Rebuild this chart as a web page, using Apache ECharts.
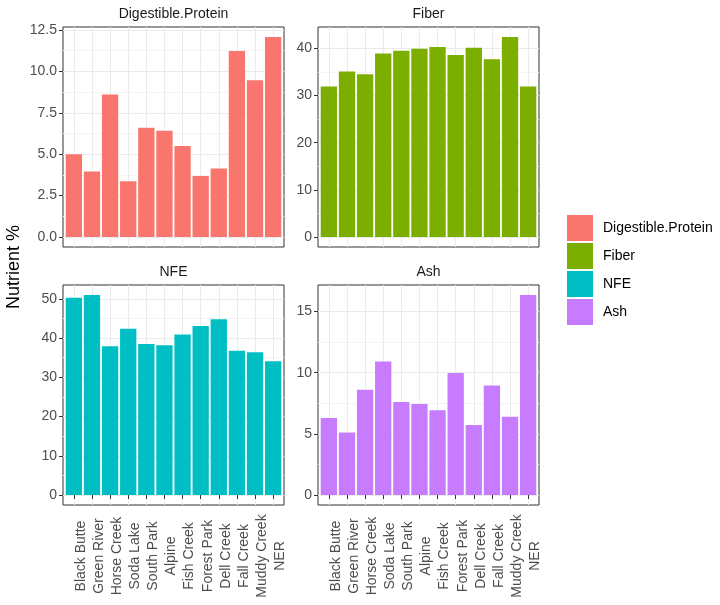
<!DOCTYPE html>
<html><head><meta charset="utf-8">
<script src="https://cdn.jsdelivr.net/npm/echarts@6/dist/echarts.min.js"></script>
<style>html,body{margin:0;padding:0;background:#fff}#c{width:720px;height:605px}</style>
</head><body><div id="c"></div>
<script>
// ---- data ----
const sites = ['Black Butte','Green River','Horse Creek','Soda Lake','South Park','Alpine','Fish Creek','Forest Park','Dell Creek','Fall Creek','Muddy Creek','NER'];
const digestibleProtein = [5.0, 3.95, 8.6, 3.37, 6.6, 6.42, 5.5, 3.69, 4.13, 11.24, 9.47, 12.08];
const fiber = [31.9, 35.1, 34.5, 38.9, 39.5, 39.9, 40.3, 38.6, 40.1, 37.7, 42.4, 31.9];
const nfe = [50.3, 51.0, 37.9, 42.4, 38.5, 38.2, 40.9, 43.1, 44.8, 36.8, 36.4, 34.1];
const ash = [6.3, 5.1, 8.6, 10.92, 7.6, 7.44, 6.92, 9.97, 5.73, 8.95, 6.4, 16.35];
const seriesNames = ['Digestible.Protein','Fiber','NFE','Ash'];
const dpTicks = [0, 2.5, 5, 7.5, 10, 12.5];
const fiberTicks = [0, 10, 20, 30, 40];
const nfeTicks = [0, 10, 20, 30, 40, 50];
const ashTicks = [0, 5, 10, 15];

// ---- layout / style ----
const FONT = 'Liberation Sans, Arial, sans-serif';
const colors = ['#F8766D', '#7CAE00', '#00BFC4', '#C77CFF'];
const panels = [
  {values: digestibleProtein, ticks: dpTicks, grid: {left: 63, top: 27, width: 221, height: 220}, bottom: false, dec: 1},
  {values: fiber, ticks: fiberTicks, grid: {left: 318, top: 27, width: 221, height: 220}, bottom: false, dec: 0},
  {values: nfe, ticks: nfeTicks, grid: {left: 63, top: 285, width: 221, height: 220}, bottom: true, dec: 0},
  {values: ash, ticks: ashTicks, grid: {left: 318, top: 285, width: 221, height: 220}, bottom: true, dec: 0}
];
const positions = sites.map((s, i) => i + 1);

const grids = [], xAxes = [], yAxes = [], series = [], graphics = [];
panels.forEach((p, i) => {
  const maxV = Math.max.apply(null, p.values);
  const ymin = -0.05 * maxV, ymax = 1.05 * maxV;
  const step = p.ticks[1] - p.ticks[0];
  const minors = [];
  for (let k = 0; k < p.ticks.length; k++) {
    const m = p.ticks[k] + step / 2;
    if (m < ymax) minors.push(m);
  }
  grids.push(Object.assign({show: true, borderColor: '#333333', borderWidth: 1, backgroundColor: '#fff', containLabel: false}, p.grid));
  xAxes.push({
    type: 'value', gridIndex: i, min: 0.4, max: sites.length + 0.6,
    axisLine: {show: false},
    axisTick: {show: p.bottom, customValues: positions, length: p.bottom ? 4 : 0,
      lineStyle: {color: p.bottom ? '#333333' : 'rgba(0,0,0,0)', width: 1}},
    axisLabel: {show: p.bottom, customValues: positions, rotate: 90, align: 'center', verticalAlign: 'top',
      margin: 51, fontSize: 14, color: '#4D4D4D', fontFamily: FONT,
      formatter: v => p.bottom ? sites[Math.round(v) - 1] : ''},
    splitLine: {show: true, lineStyle: {color: '#EBEBEB', width: 1}}
  });
  yAxes.push({
    type: 'value', gridIndex: i, min: ymin, max: ymax,
    axisLine: {show: false},
    axisTick: {show: true, customValues: p.ticks, length: 4, lineStyle: {color: '#333333', width: 1}},
    axisLabel: {show: true, customValues: p.ticks, margin: 6, fontSize: 14, color: '#4D4D4D', fontFamily: FONT,
      formatter: v => v.toFixed(p.dec)},
    splitLine: {show: true, lineStyle: {color: '#EBEBEB', width: 1}}
  });
  yAxes.push({
    type: 'value', gridIndex: i, min: ymin, max: ymax, position: 'left',
    axisLine: {show: false},
    axisTick: {show: false, customValues: minors, length: 0, lineStyle: {color: 'rgba(0,0,0,0)'}},
    axisLabel: {show: false},
    splitLine: {show: true, lineStyle: {color: '#F4F4F4', width: 1}}
  });
  series.push({
    name: seriesNames[i], type: 'bar', xAxisIndex: i, yAxisIndex: 2 * i,
    barCategoryGap: '10%',
    itemStyle: {color: colors[i]},
    data: p.values.map((v, j) => [positions[j], v])
  });
  graphics.push({
    type: 'text', x: p.grid.left + p.grid.width / 2, y: p.grid.top - 13,
    style: {text: seriesNames[i], font: '14px ' + FONT, fill: '#1A1A1A', textAlign: 'center', textVerticalAlign: 'middle'}
  });
});
graphics.push({
  type: 'text', x: 14, y: 267, rotation: Math.PI / 2,
  style: {text: 'Nutrient %', font: '18px ' + FONT, fill: '#000', textAlign: 'center', textVerticalAlign: 'middle'}
});

const chart = echarts.init(document.getElementById('c'), null, {renderer: 'canvas'});
chart.setOption({
  animation: false,
  backgroundColor: '#fff',
  grid: grids, xAxis: xAxes, yAxis: yAxes, series: series,
  graphic: graphics,
  legend: {
    orient: 'vertical', left: 567, top: 215, padding: 0,
    icon: 'rect', itemWidth: 26, itemHeight: 26, itemGap: 2,
    data: seriesNames,
    textStyle: {fontSize: 14, color: '#000', fontFamily: FONT, padding: [0, 0, 0, 5]}
  }
});
</script>
</body></html>
